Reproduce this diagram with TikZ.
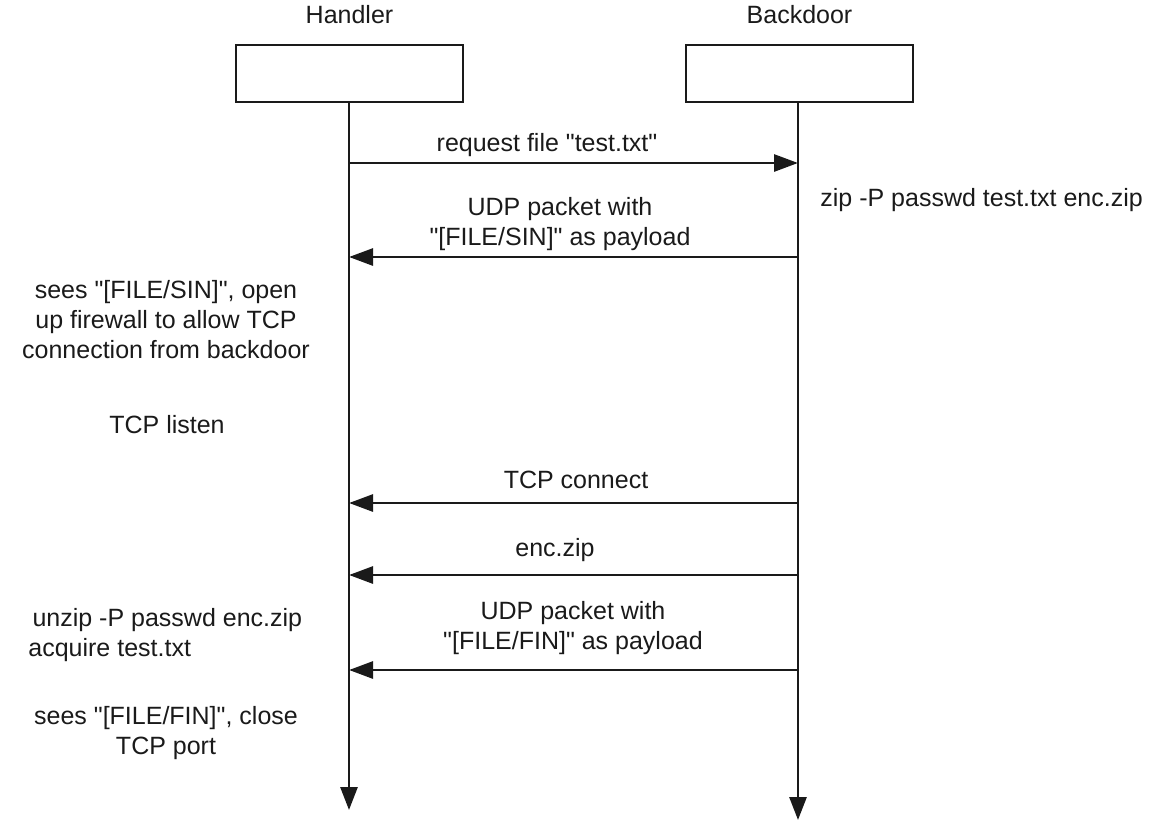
\documentclass[tikz,border=0pt]{standalone}
\usepackage{fontspec}
\setmainfont{Liberation Sans}
\usepackage{tikz}
\usetikzlibrary{arrows.meta}
\definecolor{ink}{HTML}{1A1A1A}
\newcommand{\qt}{\textquotedbl}
\tikzset{
  actor/.style={draw=ink, line width=1.45pt, minimum width=113.5pt, minimum height=28.5pt, inner sep=0pt},
  life/.style={draw=ink, line width=1.4pt, -{Triangle[length=11.5pt,width=8.5pt]}},
  msg/.style={draw=ink, line width=1.4pt, -{Triangle[length=12pt,width=8.5pt]}},
  lab/.style={text=ink, font=\fontsize{12.5}{15}\selectfont, align=center, inner sep=0pt},
  every node/.style={text=ink}
}
\begin{document}
\begin{tikzpicture}[x=0.5pt,y=-0.5pt]
  \useasboundingbox (0,0) rectangle (1160,825);

  % actors
  \node[actor] (hbox) at (349.5,73.5) {};
  \node[actor] (bbox) at (799.5,73.5) {};
  \node[lab] (hname) at (349.5,15) {Handler};
  \node[lab] (bname) at (799.5,15) {Backdoor};

  % lifelines
  \coordinate (hend) at (349,810);
  \coordinate (bend) at (798,820);
  \draw[life] (hbox.south -| hend) -- (hend);
  \draw[life] (bbox.south -| bend) -- (bend);

  % message points
  \coordinate (h1) at (349,163); \coordinate (b1) at (798,163);
  \coordinate (h2) at (349,257); \coordinate (b2) at (798,257);
  \coordinate (h3) at (349,503); \coordinate (b3) at (798,503);
  \coordinate (h4) at (349,575); \coordinate (b4) at (798,575);
  \coordinate (h5) at (349,670); \coordinate (b5) at (798,670);

  \draw[msg] (h1) -- (b1);
  \draw[msg] (b2) -- (h2);
  \draw[msg] (b3) -- (h3);
  \draw[msg] (b4) -- (h4);
  \draw[msg] (b5) -- (h5);

  \node[lab] (m1) at (547,145) {request file \qt test.txt\qt};
  \node[lab] (m2) at (560,224) {UDP packet with\\\qt[FILE/SIN]\qt{} as payload};
  \node[lab] (m3) at (576,480) {TCP connect};
  \node[lab] (m4) at (555,550) {enc.zip};
  \node[lab] (m5) at (573,628) {UDP packet with\\\qt[FILE/FIN]\qt{} as payload};

  % side notes
  \node[lab, anchor=west] (zipnote) at (820,200) {zip -P passwd test.txt enc.zip};
  \node[lab] (sinnote) at (166,320) {sees \qt[FILE/SIN]\qt, open\\up firewall to allow TCP\\connection from backdoor};
  \node[lab] (listen) at (167,425) {TCP listen};
  \node[lab, align=left, anchor=west] (unzip) at (28,635) {\,unzip -P passwd enc.zip\\acquire test.txt};
  \node[lab] (finnote) at (166,733) {sees \qt[FILE/FIN]\qt, close\\TCP port};
\end{tikzpicture}
\end{document}
